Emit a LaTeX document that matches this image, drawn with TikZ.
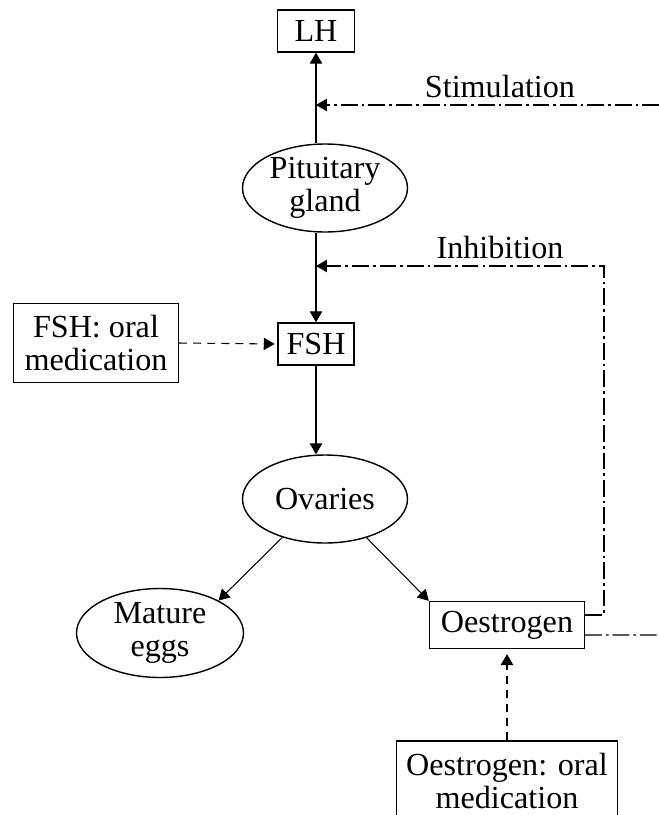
\documentclass[tikz,border=0pt]{standalone}
\usepackage{fontspec}
\setmainfont{Liberation Serif}
\usetikzlibrary{shapes.geometric, arrows.meta}

\tikzset{
  labeltext/.style={font=\fontsize{18.3}{18.6}\selectfont},
  box/.style={draw, rectangle, line width=0.8pt, align=center, inner sep=0pt, labeltext},
  oval/.style={draw, ellipse, line width=0.8pt, align=center, inner sep=0pt, labeltext},
  tip/.style={-{Triangle[length=6.2pt, width=7pt]}},
  flow/.style={line width=0.6pt, tip},
  medline/.style={line width=0.6pt, tip, dash pattern=on 4.5pt off 3.5pt},
  feedback/.style={line width=0.6pt, dash pattern=on 9.5pt off 2.3pt on 1.5pt off 2.3pt},
}

\begin{document}
\begin{tikzpicture}[x=0.02cm, y=-0.02cm]
  \useasboundingbox (0,0) rectangle (659,815);
  \clip (0,0) rectangle (659,815);

  % hormones and organs
  \node[box, minimum width=1.54cm, minimum height=0.84cm] (lh) at (316,31) {LH};
  \node[oval, minimum width=3.3cm, minimum height=1.76cm] (pit) at (325,188) {Pituitary\\gland};
  \node[box, minimum width=1.52cm, minimum height=0.84cm] (fsh) at (316,344) {FSH};
  \node[box, minimum width=3.3cm, minimum height=1.58cm] (fshmed) at (96,343) {FSH: oral\\medication};
  \node[oval, minimum width=3.3cm, minimum height=1.76cm] (ova) at (325,499) {Ovaries};
  \node[oval, minimum width=3.34cm, minimum height=1.78cm] (eggs) at (160,633) {Mature\\eggs};
  \node[box, minimum width=3.1cm, minimum height=0.94cm] (oes) at (507,625) {Oestrogen};
  \node[box, minimum width=4.42cm, minimum height=1.6cm] (oesmed) at (507,781) {Oestrogen: oral\\medication};

  % feedback labels
  \node[labeltext, anchor=base] (stimlabel) at (500,97) {Stimulation};
  \node[labeltext, anchor=base] (inhlabel) at (500,258) {Inhibition};

  % free ends of the feedback lines
  \coordinate (stimin) at (659,105);
  \coordinate (stimout) at (659,635);
  \coordinate (inhcorner) at (604,266);
  \coordinate (inhib) at (316,266);

  % main chain
  \draw[flow] (pit.north -| lh) -- (lh.south);
  \draw[flow] (pit.south -| fsh) -- (fsh.north);
  \draw[flow] (fsh.south) -- (ova.north -| fsh);
  \draw[flow] (ova.222) -- (eggs.29);
  \draw[flow] (ova.317) -- (oes.north west);

  % medication
  \draw[medline, shorten >=1.5pt] (fshmed.east) -- (fsh.west);
  \draw[medline, shorten >=2.8pt] (oesmed.north) -- (oes.south);

  % feedback
  \draw[feedback, tip] (stimin) -- (stimin -| lh);
  \draw[feedback, tip] ([yshift=0.2cm]oes.east) -| (inhcorner) -- (inhib);
  \draw[feedback] ([yshift=-0.2cm]oes.east) -- (stimout);
\end{tikzpicture}
\end{document}
